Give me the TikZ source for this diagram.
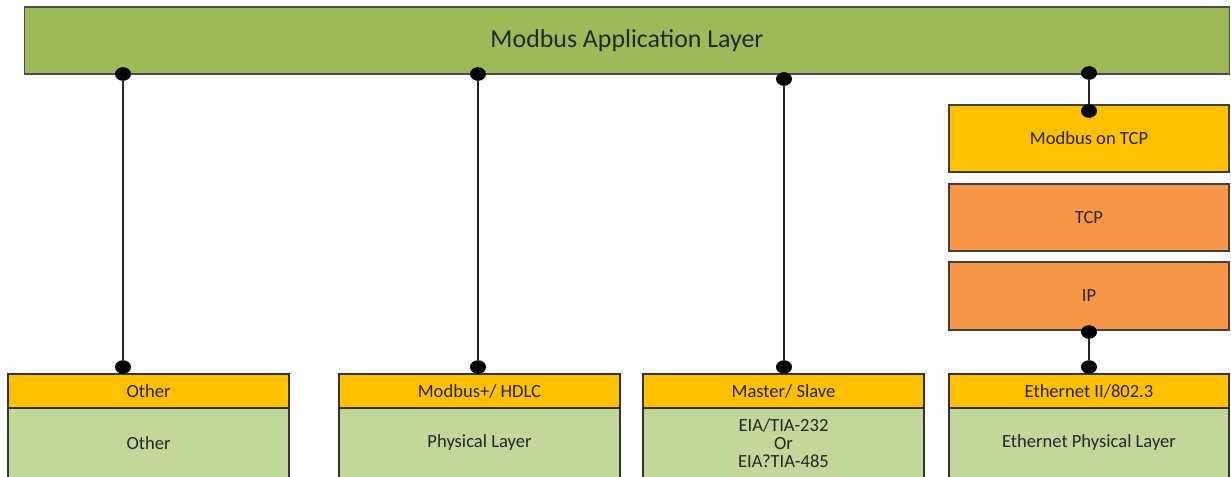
\documentclass[tikz,border=0pt]{standalone}
\usepackage{fontspec}
\setmainfont{Carlito}
\usetikzlibrary{shapes.geometric}

\definecolor{appgreen}{HTML}{9BBB59}
\definecolor{lightgreen}{HTML}{C4D79B}
\definecolor{headgold}{HTML}{FFC000}
\definecolor{stackorange}{HTML}{F79646}

\begin{document}
\begin{tikzpicture}[
  x=0.025cm,
  y=-0.025cm,
  font=\fontsize{13.2}{13}\selectfont,
  text=black!85,
  appbar/.style={draw=black!70, fill=appgreen, line width=0.9pt, minimum width=30.1cm, minimum height=1.675cm, font=\fontsize{18.4}{20}\selectfont},
  header/.style={draw=black!80, fill=headgold, line width=0.8pt, minimum width=7.025cm, minimum height=0.85cm},
  body/.style={draw=black!80, fill=lightgreen, line width=0.8pt, minimum width=7.025cm, minimum height=1.75cm, align=center},
  stackbox/.style={draw=black!75, line width=0.8pt, minimum width=7cm, minimum height=1.675cm},
  dot/.style={ellipse, fill=black, inner sep=0pt, minimum width=0.4cm, minimum height=0.34cm},
  link/.style={line width=0.8pt, black!85}
]
  \useasboundingbox (0,0) rectangle (1231,476);

  % application layer
  \node[appbar] (app) at (627,40.5) {Modbus Application Layer};

  % TCP/IP stack
  \node[stackbox, fill=headgold] (mtcp) at (1089,138.5) {Modbus on TCP};
  \node[stackbox, fill=stackorange] (tcp) at (1089,217.5) {TCP};
  \node[stackbox, fill=stackorange, minimum height=1.7cm] (ip) at (1089,296) {IP};

  % lower layers
  \node[body] (b1) at (148.5,443) {Other};
  \node[header] (h1) at (148.5,391) {Other};
  \node[body] (b2) at (479.5,443) {Physical Layer};
  \node[header] (h2) at (479.5,391) {Modbus+/ HDLC};
  \node[body] (b3) at (783.5,443) {EIA/TIA-232\\Or\\EIA?TIA-485};
  \node[header] (h3) at (783.5,391) {Master/ Slave};
  \node[body, minimum width=7cm] (b4) at (1089,443) {Ethernet Physical Layer};
  \node[header, minimum width=7cm] (h4) at (1089,391) {Ethernet II/802.3};

  % connectors
  \node[dot] (a1) at (123,74) {};
  \node[dot] (a2) at (478,74) {};
  \node[dot] (a3) at (784,79) {};
  \node[dot] (a4) at (1089,73) {};
  \node[dot] (t1) at (123,367) {};
  \node[dot] (t2) at (478,367) {};
  \node[dot] (t3) at (784,367) {};
  \node[dot] (t4) at (1089,111) {};
  \node[dot] (ipb) at (1089,332) {};
  \node[dot] (eth) at (1089,367) {};

  \draw[link] (a1) -- (t1);
  \draw[link] (a2) -- (t2);
  \draw[link] (a3) -- (t3);
  \draw[link] (a4) -- (t4);
  \draw[link] (ipb) -- (eth);
\end{tikzpicture}
\end{document}
